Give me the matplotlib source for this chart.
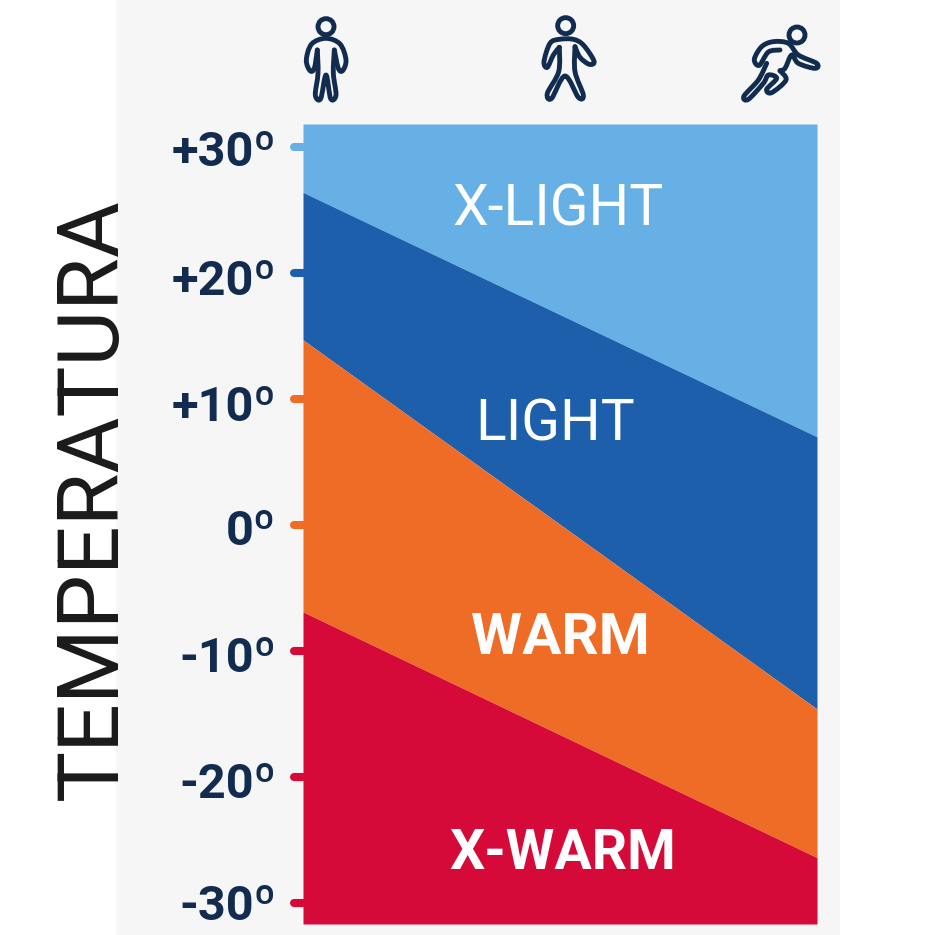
import matplotlib
matplotlib.use("Agg")
import matplotlib.pyplot as plt
from matplotlib.path import Path
from matplotlib.patches import PathPatch, Circle, Rectangle
from matplotlib.transforms import Affine2D

# ---------- data ----------
activity = [0, 1]
boundary_xlight_light = [26.4, 7.0]
boundary_light_warm = [14.7, -14.6]
boundary_warm_xwarm = [-6.9, -26.4]
y_top, y_bottom = 31.83, -31.67
zone_names = ["X-LIGHT", "LIGHT", "WARM", "X-WARM"]
zone_label_temp = [25.0, 7.9, -9.0, -26.1]
zone_label_x = [0.4965, 0.49, 0.5015, 0.5045]
zone_sizes = [41, 41, 42, 40]
zone_bold = [False, False, True, True]
zone_colors = ["#66b0e5", "#1d5fab", "#ef6c27", "#d50a38"]
tick_values = [30, 20, 10, 0, -10, -20, -30]
tick_labels = ["+30º", "+20º", "+10º", "0º", "-10º", "-20º", "-30º"]
tick_label_dy = [-1, -4, -4, -2, -3, -3, 1]
tick_colors = ["#66b0e5", "#1d5fab", "#ef6c27", "#ef6c27", "#d50a38", "#d50a38", "#d50a38"]
ylabel = "TEMPERATURA"
NAVY = "#122c4f"
PANEL = "#f6f6f6"

W = 935
PT = 72 / 100
fig = plt.figure(figsize=(9.35, 9.35), dpi=100, facecolor="white")
fig.patches.append(Rectangle((116 / W, 0), (840 - 116) / W, 1, transform=fig.transFigure,
                             facecolor=PANEL, edgecolor="none", zorder=-5))

ax = fig.add_axes([303 / W, 1 - 924 / W, (817 - 303) / W, (924 - 124) / W])
ax.patch.set_alpha(0)
ax.set_xlim(0, 1)
ax.set_ylim(y_bottom, y_top)
top = [y_top, y_top]
bot = [y_bottom, y_bottom]
layers = [top, boundary_xlight_light, boundary_light_warm, boundary_warm_xwarm, bot]
for i, col in enumerate(zone_colors):
    ax.fill_between(activity, layers[i + 1], layers[i], color=col, lw=0)
for s in ax.spines.values():
    s.set_visible(False)
ax.set_xticks([])
ax.set_yticks([])

for v, lab, col, dy in zip(tick_values, tick_labels, tick_colors, tick_label_dy):
    ax.plot([-9 / 514, 0], [v, v], color=col, lw=5.8, solid_capstyle="round", clip_on=False, zorder=1)
    ax.annotate(lab, (0, v), xytext=(-27 * PT, dy * PT), textcoords="offset points", ha="right", va="center_baseline",
                fontsize=35, fontweight="bold", color=NAVY, family="Roboto")

for name, t, x, sz, b in zip(zone_names, zone_label_temp, zone_label_x, zone_sizes, zone_bold):
    ax.text(x, t, name, ha="center", va="center", color="white",
            fontsize=sz, fontweight="bold" if b else "normal", family="Roboto")

fig.text(93 / W, 1 - 499 / W, ylabel, rotation=90, ha="center", va="center", fontsize=61.7,
         color="#1a1a1a", family="Roboto", fontweight="normal")


def smooth(points):
    """Catmull-Rom through points, as Bezier segments."""
    n = len(points)
    verts, codes = [points[0]], [Path.MOVETO]
    for i in range(n - 1):
        p0 = points[i - 1] if i > 0 else points[i]
        p1 = points[i]
        p2 = points[i + 1]
        p3 = points[i + 2] if i + 2 < n else p2
        c1 = (p1[0] + (p2[0] - p0[0]) / 6, p1[1] + (p2[1] - p0[1]) / 6)
        c2 = (p2[0] - (p3[0] - p1[0]) / 6, p2[1] - (p3[1] - p1[1]) / 6)
        verts += [c1, c2, p2]
        codes += [Path.CURVE4] * 3
    return Path(verts, codes)


def icon(origin, head, strokes):
    tr = Affine2D().scale(1 / 3, -1 / 3).translate(origin, W)
    fig.patches.append(Circle(head[:2], head[2], transform=tr, fill=False, edgecolor=NAVY, lw=3.5))
    for pts in strokes:
        fig.patches.append(PathPatch(smooth(pts), transform=tr, fill=False, edgecolor=NAVY, lw=3.5,
                                     capstyle="round", joinstyle="round"))


icon(280, (138, 80, 24), [
    [(112, 150), (103, 205), (90, 212), (79, 180), (95, 132), (138, 115), (180, 132), (198, 180),
     (188, 212), (175, 205), (163, 150)],
    [(112, 150), (114, 220), (106, 285), (122, 296), (138, 225), (152, 296), (168, 285), (160, 220), (163, 150)],
])
icon(520, (137, 77, 24), [
    [(118, 142), (100, 165), (82, 202), (72, 185), (90, 130), (118, 118), (160, 118), (190, 135),
     (222, 183), (208, 193), (180, 172), (165, 140)],
    [(118, 142), (116, 215), (82, 280), (95, 295), (135, 228), (175, 292), (190, 285), (165, 215), (165, 140)],
])
icon(730, (201, 105, 24), [
    [(150, 150), (115, 156), (88, 196), (73, 178), (95, 140), (130, 125), (175, 130), (205, 165),
     (260, 190), (255, 205), (205, 190), (185, 165), (165, 205), (150, 212)],
    [(110, 190), (85, 240), (42, 288), (55, 298), (100, 250), (115, 225), (140, 235), (110, 268),
     (125, 278), (168, 240), (150, 212)],
])

fig.savefig("out.png", dpi=100)
